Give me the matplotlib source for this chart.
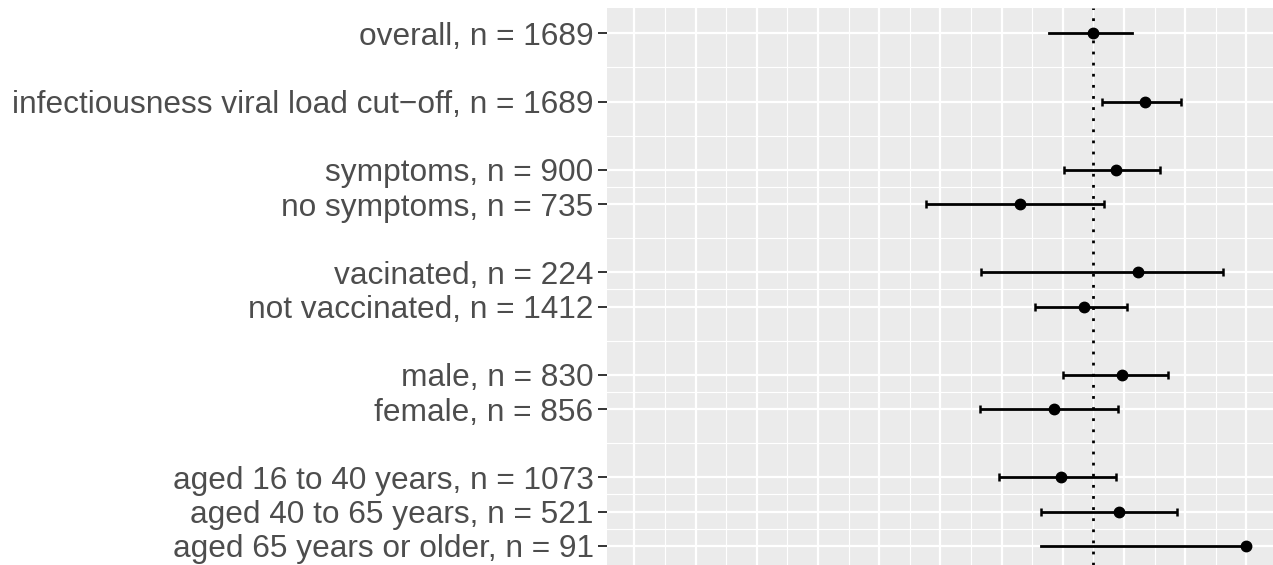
import matplotlib
matplotlib.use("Agg")
from matplotlib import pyplot as plt
import numpy as np

labels = ["overall, n = 1689",
          "infectiousness viral load cut\u2212off, n = 1689",
          "symptoms, n = 900",
          "no symptoms, n = 735",
          "vacinated, n = 224",
          "not vaccinated, n = 1412",
          "male, n = 830",
          "female, n = 856",
          "aged 16 to 40 years, n = 1073",
          "aged 40 to 65 years, n = 521",
          "aged 65 years or older, n = 91"]
ypos = [16, 14, 12, 11, 9, 8, 6, 5, 3, 2, 1]
est = [0.0, 0.85, 0.376, -1.194, 0.734, -0.158, 0.462, -0.639, -0.526, 0.412, 2.493]
lower = [-0.72, 0.136, -0.479, -2.74, -1.832, -0.954, -0.502, -1.848, -1.542, -0.85, -0.856]
upper = [0.63, 1.436, 1.083, 0.178, 2.113, 0.549, 1.219, 0.407, 0.363, 1.364, 2.493]
capped = [False, True, True, True, True, True, True, True, True, True, False]

plt.rcParams['font.family'] = ['Liberation Sans', 'DejaVu Sans']

fig = plt.figure(figsize=(12.73, 5.65), dpi=100)
ax = fig.add_axes([606.7/1273, 0, 1 - 606.7/1273, (565-8.3)/565])
ax.set_facecolor("#EBEBEB")

# grid: majors on half units, minors on whole units / midpoints
xmaj = np.arange(-7.5, 3.0, 1.0)
xmin = np.arange(-7, 3, 1.0)
ys = sorted(ypos)
ymin = [(a + b) / 2 for a, b in zip(ys[:-1], ys[1:])]
for v in xmin:
    ax.axvline(v, color="white", lw=0.8, zorder=0)
for v in ymin:
    ax.axhline(v, color="white", lw=0.8, zorder=0)
for v in xmaj:
    ax.axvline(v, color="white", lw=1.6, zorder=0.5)
for v in ypos:
    ax.axhline(v, color="white", lw=1.6, zorder=0.5)

ax.axvline(0, color="black", lw=2, linestyle=(0, (1, 3)), zorder=1)

for i in range(len(labels)):
    if capped[i]:
        ax.errorbar(est[i], ypos[i], xerr=[[est[i] - lower[i]], [upper[i] - est[i]]],
                    fmt="none", ecolor="black", elinewidth=2, capsize=3, capthick=1.8, zorder=2)
    else:
        ax.plot([lower[i], upper[i]], [ypos[i], ypos[i]], color="black", lw=2, zorder=2)
ax.plot(est, ypos, "o", color="black", markersize=7.5, zorder=3)

ax.set_xlim(-7.953, 2.934)
ax.set_ylim(0.435, 16.73)
ax.set_xticks([])
ax.set_yticks(ypos)
ax.set_yticklabels(labels, fontsize=22.8, color="#4D4D4D")
ax.tick_params(axis="y", length=6.5, width=1.4, color="#333333", pad=3)
for s in ax.spines.values():
    s.set_visible(False)

fig.savefig("out.png", dpi=100)
